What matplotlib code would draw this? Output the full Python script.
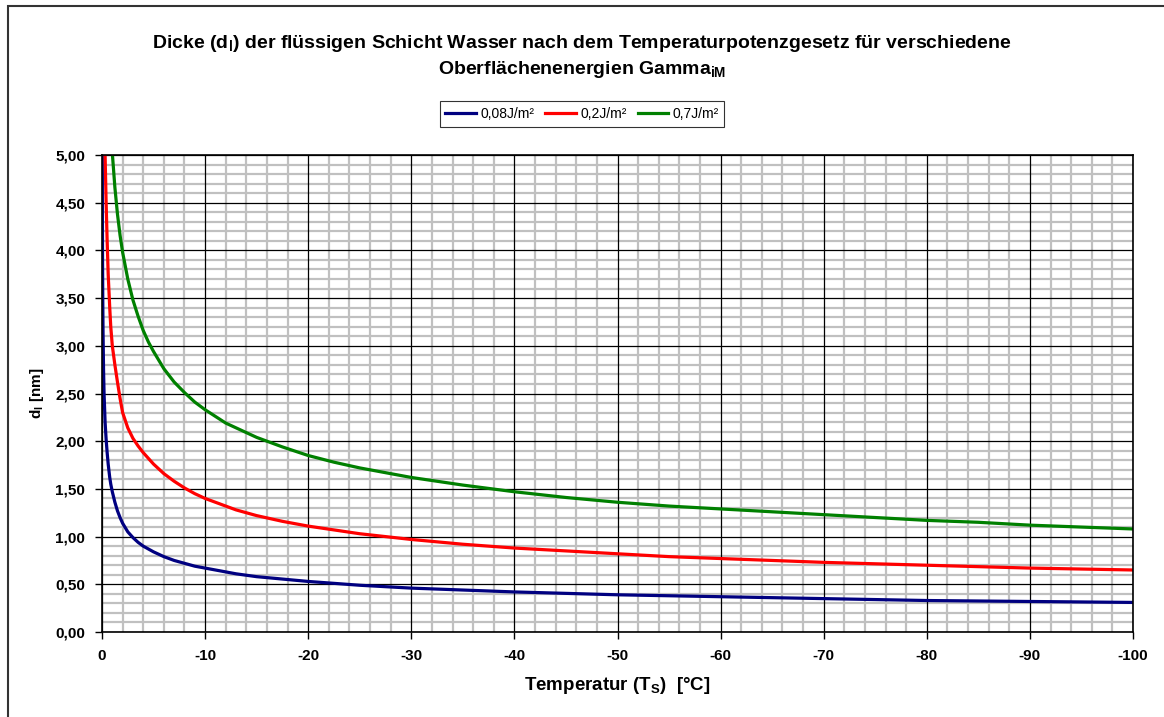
import matplotlib.pyplot as plt
from matplotlib.patches import Rectangle
from matplotlib.ticker import MultipleLocator, FuncFormatter

plt.rcParams['font.family'] = ['Liberation Sans', 'DejaVu Sans']
plt.rcParams['mathtext.fontset'] = 'custom'
plt.rcParams['mathtext.rm'] = 'Liberation Sans'
plt.rcParams['mathtext.bf'] = 'Liberation Sans:bold'

# temperatures (°C) and read-off layer thickness (nm)
t_blue = [-0.02, -0.03, -0.05, -0.07, -0.1, -0.15, -0.2, -0.3, -0.4, -0.5, -0.6, -0.75, -0.85,
          -1, -1.25, -1.5, -1.75, -2, -2.5, -3, -3.5, -4, -4.5, -5, -6, -7, -8, -9,
          -10, -11, -12, -13, -15, -17.5, -20, -22.5, -25, -27.5, -30, -35, -40, -45,
          -50, -55, -60, -65, -70, -75, -80, -85, -90, -95, -100]
d_blue = [5.6, 4.9, 3.95, 3.55, 3.15, 2.75, 2.5, 2.2, 2.02, 1.88, 1.76, 1.62, 1.55,
          1.47, 1.36, 1.27, 1.2, 1.14, 1.05, 0.99, 0.94, 0.90, 0.87, 0.84, 0.79, 0.75, 0.72, 0.69,
          0.67, 0.65, 0.63, 0.61, 0.58, 0.555, 0.53, 0.51, 0.49, 0.475, 0.46, 0.44, 0.42, 0.405,
          0.39, 0.38, 0.37, 0.36, 0.35, 0.34, 0.33, 0.325, 0.32, 0.315, 0.31]

t_red = [-0.2, -0.3, -0.4, -0.5, -0.6, -0.75, -0.85, -1, -1.25, -1.5, -1.75, -2, -2.5,
         -3, -3.5, -4, -4.5, -5, -6, -7, -8, -9, -10, -11, -12, -13, -15, -17.5,
         -20, -22.5, -25, -27.5, -30, -35, -40, -45, -50, -55, -60, -65, -70, -75,
         -80, -85, -90, -95, -100]
d_red = [5.6, 5.0, 4.5, 4.1, 3.75, 3.4, 3.2, 3.0, 2.8, 2.62, 2.45, 2.3, 2.14,
         2.03, 1.95, 1.88, 1.82, 1.76, 1.66, 1.58, 1.51, 1.45, 1.40, 1.36, 1.32, 1.28, 1.22, 1.16,
         1.11, 1.07, 1.03, 1.0, 0.97, 0.92, 0.88, 0.85, 0.82, 0.79, 0.77, 0.75, 0.73, 0.715,
         0.70, 0.685, 0.67, 0.66, 0.65]

t_green = [-0.9, -1, -1.25, -1.5, -1.75, -2, -2.5, -3, -3.5, -4, -4.5, -5, -6, -7, -8, -9,
           -10, -11, -12, -13, -15, -17.5, -20, -22.5, -25, -27.5, -30, -35, -40, -45,
           -50, -55, -60, -65, -70, -75, -80, -85, -90, -95, -100]
d_green = [5.2, 5.02, 4.66, 4.38, 4.16, 3.98, 3.7, 3.48, 3.31, 3.16, 3.04, 2.94, 2.76, 2.62, 2.51, 2.41,
           2.33, 2.26, 2.19, 2.14, 2.04, 1.94, 1.85, 1.78, 1.72, 1.67, 1.62, 1.54, 1.47, 1.41,
           1.36, 1.32, 1.29, 1.26, 1.23, 1.20, 1.17, 1.15, 1.12, 1.10, 1.08]

labels = ['0,08J/m²', '0,2J/m²', '0,7J/m²']
colors = ['#000080', '#ff0000', '#008000']

fig = plt.figure(figsize=(11.64, 7.17), dpi=100)
ax = fig.add_axes([102/1164, 1 - 632/717, 1031/1164, 477/717])

for t, d, lab, c in zip([t_blue, t_red, t_green], [d_blue, d_red, d_green], labels, colors):
    ax.plot(t, d, color=c, lw=2.3, label=lab, zorder=3, solid_joinstyle='round')

ax.set_xlim(0, -100)
ax.set_ylim(0, 5)
ax.xaxis.set_major_locator(MultipleLocator(10))
ax.xaxis.set_minor_locator(MultipleLocator(2))
ax.yaxis.set_major_locator(MultipleLocator(0.5))
ax.yaxis.set_minor_locator(MultipleLocator(0.1))

# grid: light gray minor lines below black major lines
ax.vlines(ax.xaxis.get_minorticklocs(), 0, 1, transform=ax.get_xaxis_transform(),
          color='#c0c0c0', lw=1.6, zorder=0.5)
ax.hlines(ax.yaxis.get_minorticklocs(), 0, 1, transform=ax.get_yaxis_transform(),
          color='#c0c0c0', lw=1.6, zorder=0.5)
ax.vlines(ax.xaxis.get_majorticklocs(), 0, 1, transform=ax.get_xaxis_transform(),
          color='black', lw=0.9, zorder=1)
ax.hlines(ax.yaxis.get_majorticklocs(), 0, 1, transform=ax.get_yaxis_transform(),
          color='black', lw=0.9, zorder=1)
ax.set_xlim(0, -100)
ax.set_ylim(0, 5)

ax.tick_params(which='minor', length=0)
ax.tick_params(which='major', length=5, width=1, direction='out', labelsize=11, pad=7)
ax.xaxis.set_major_formatter(FuncFormatter(lambda v, p: '%d' % round(v)))
ax.yaxis.set_major_formatter(FuncFormatter(lambda v, p: ('%.2f' % v).replace('.', ',')))
for lbl in ax.get_xticklabels() + ax.get_yticklabels():
    lbl.set_fontweight('bold')
for s in ax.spines.values():
    s.set_linewidth(1.2)
    s.set_zorder(4)

ax.set_xlabel(r'Temperatur (T$_\mathbf{S}$)  [°C]', fontsize=13.5, fontweight='bold', labelpad=9)
ax.set_ylabel(r'd$_\mathbf{l}$ [nm]', fontsize=11, fontweight='bold', labelpad=7)

fig.text(0.5, 1 - 43/717, r'Dicke (d$_\mathbf{l}$) der flüssigen Schicht Wasser nach dem Temperaturpotenzgesetz für verschiedene',
         ha='center', va='center', fontsize=14, fontweight='bold')
fig.text(0.5, 1 - 70/717, r'Oberflächenenergien Gamma$_\mathbf{iM}$',
         ha='center', va='center', fontsize=14, fontweight='bold')

leg = fig.legend(loc='center', bbox_to_anchor=(0.5, 1 - 114/717), ncol=3, fontsize=10,
                 frameon=True, fancybox=False, edgecolor='black', handlelength=2.2,
                 handletextpad=0.3, columnspacing=0.8, borderpad=0.4)
leg.get_frame().set_linewidth(0.8)

fig.patches.append(Rectangle((8/1164, -0.1), 1.2, 0.1 + 1 - 6/717, transform=fig.transFigure,
                             fill=False, edgecolor='#333333', lw=1.5))

fig.savefig('out.png', dpi=100)
